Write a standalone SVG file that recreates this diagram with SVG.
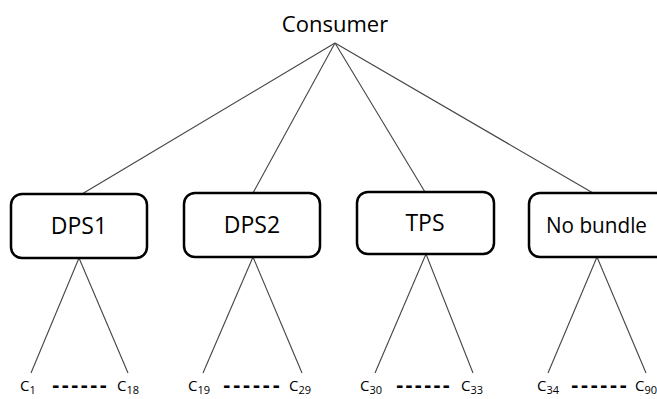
<svg xmlns="http://www.w3.org/2000/svg" width="657" height="399" viewBox="0 0 657 399">
<style>
.box{fill:#fff;stroke:#000;stroke-width:2.5}
.lbl{font-family:"Open Sans","Noto Sans","DejaVu Sans",sans-serif;font-size:22px;fill:#000;text-anchor:middle}
.c{font-family:"Open Sans","Noto Sans","DejaVu Sans",sans-serif;font-size:15px;fill:#000}
.sub{font-size:11px}
.dash{font-family:"DejaVu Sans",sans-serif;font-size:18px;font-weight:bold;fill:#000}
.ln{stroke:#444;stroke-width:1.1;fill:none}
</style>
<rect width="657" height="399" fill="#fff"/>
<g id="connectors">
<line class="ln" x1="335" y1="43" x2="82" y2="194"/>
<line class="ln" x1="335" y1="43" x2="253" y2="193"/>
<line class="ln" x1="335" y1="43" x2="425" y2="192"/>
<line class="ln" x1="335" y1="43" x2="593" y2="193"/>
<line class="ln" x1="79" y1="258" x2="31" y2="373"/>
<line class="ln" x1="79" y1="258" x2="128" y2="373"/>
<line class="ln" x1="253" y1="257" x2="203" y2="373"/>
<line class="ln" x1="253" y1="257" x2="302" y2="373"/>
<line class="ln" x1="426" y1="254" x2="375" y2="373"/>
<line class="ln" x1="426" y1="254" x2="473" y2="373"/>
<line class="ln" x1="597" y1="257" x2="548" y2="373"/>
<line class="ln" x1="597" y1="257" x2="646" y2="373"/>
</g>
<g id="consumer">
<text class="lbl" x="335" y="32">Consumer</text>
</g>
<g id="dps1">
<rect class="box" x="11" y="194" width="136" height="64" rx="11"/>
<text class="lbl" x="79" y="234" style="font-size:23px">DPS1</text>
</g>
<g id="dps2">
<rect class="box" x="184" y="193" width="136" height="64" rx="11"/>
<text class="lbl" x="252" y="233" style="font-size:23px">DPS2</text>
</g>
<g id="tps">
<rect class="box" x="357" y="192" width="137" height="62" rx="11"/>
<text class="lbl" x="425" y="231" style="font-size:23px">TPS</text>
</g>
<g id="nobundle">
<rect class="box" x="529" y="193" width="140" height="64" rx="11"/>
<text class="lbl" x="546" y="233" style="text-anchor:start" textLength="101" lengthAdjust="spacingAndGlyphs">No bundle</text>
</g>
<g id="leaves1">
<text class="c" x="20" y="391">C<tspan class="sub" dy="3">1</tspan></text>
<text class="dash" x="52" y="392" textLength="55" lengthAdjust="spacing">------</text>
<text class="c" x="117" y="391">C<tspan class="sub" dy="3">18</tspan></text>
</g>
<g id="leaves2">
<text class="c" x="188" y="391">C<tspan class="sub" dy="3">19</tspan></text>
<text class="dash" x="223" y="392" textLength="57" lengthAdjust="spacing">------</text>
<text class="c" x="289" y="391">C<tspan class="sub" dy="3">29</tspan></text>
</g>
<g id="leaves3">
<text class="c" x="360" y="391">C<tspan class="sub" dy="3">30</tspan></text>
<text class="dash" x="396" y="392" textLength="54" lengthAdjust="spacing">------</text>
<text class="c" x="461" y="391">C<tspan class="sub" dy="3">33</tspan></text>
</g>
<g id="leaves4">
<text class="c" x="537" y="391">C<tspan class="sub" dy="3">34</tspan></text>
<text class="dash" x="571" y="392" textLength="56" lengthAdjust="spacing">------</text>
<text class="c" x="635" y="391">C<tspan class="sub" dy="3">90</tspan></text>
</g>
</svg>
